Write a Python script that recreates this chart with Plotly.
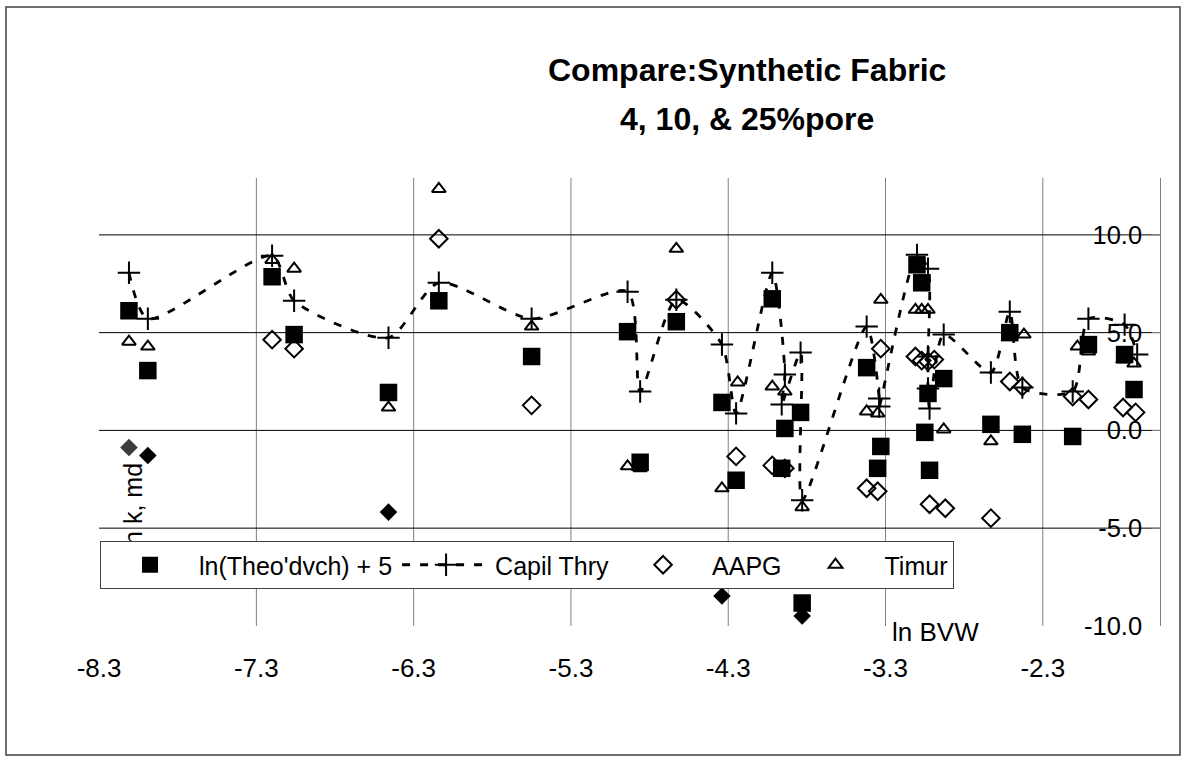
import plotly.graph_objects as go

# ---------------- data ----------------
theo_x = [-8.11, -7.99, -7.20, -7.06, -6.46, -6.14, -5.55, -4.94, -4.63, -4.86,
          -4.34, -4.25, -4.02, -3.94, -3.84, -3.96, -3.83, -3.42, -3.33, -3.35,
          -3.10, -3.07, -3.03, -2.93, -3.05, -3.02, -2.63, -2.51, -2.43, -2.11,
          -2.01, -1.78, -1.72]
theo_y = [6.12, 3.06, 7.86, 4.90, 1.94, 6.63, 3.78, 5.05, 5.56, -1.63,
          1.43, -2.55, 6.73, 0.10, 0.92, -1.94, -8.83, 3.21, -0.82, -1.94,
          8.47, 7.55, 1.89, 2.65, -0.10, -2.04, 0.31, 5.00, -0.20, -0.31,
          4.39, 3.88, 2.09]

capil_x = [-8.11, -7.99, -7.20, -7.06, -6.46, -6.14, -5.55, -4.94, -4.86, -4.63,
           -4.34, -4.25, -4.02, -3.94, -3.96, -3.84, -3.83, -3.42, -3.34, -3.34,
           -3.10, -3.03, -3.03, -3.03, -3.02, -2.93, -2.63, -2.51, -2.43, -2.11,
           -2.01, -1.78, -1.70]
capil_y = [8.06, 5.71, 8.93, 6.63, 4.74, 7.55, 5.71, 7.09, 1.99, 6.68,
           4.39, 0.87, 8.06, 2.86, 1.33, 3.98, -3.57, 5.31, 1.63, 1.22,
           8.98, 8.27, 3.78, 2.14, 1.12, 4.90, 2.96, 6.07, 2.19, 1.99,
           5.71, 5.41, 3.88]

aapg_x = [-7.20, -7.06, -6.14, -5.55, -4.63, -4.25, -4.02, -3.94, -3.42, -3.35,
          -3.33, -3.11, -3.07, -3.03, -2.99, -3.02, -2.92, -2.63, -2.51, -2.43,
          -2.11, -2.01, -1.79, -1.71]
aapg_y = [4.64, 4.18, 9.80, 1.28, 6.68, -1.33, -1.79, -1.94, -2.96, -3.11,
          4.18, 3.78, 3.57, 3.52, 3.62, -3.78, -3.98, -4.49, 2.50, 2.24,
          1.73, 1.58, 1.17, 0.92]

timur_x = [-8.11, -7.99, -7.20, -7.06, -6.46, -6.14, -5.55, -4.63, -4.94, -4.86,
           -4.34, -4.24, -4.02, -3.94, -3.83, -3.42, -3.35, -3.33, -3.11, -3.07,
           -3.03, -2.93, -2.63, -2.42, -2.08, -2.01, -1.79, -1.72]
timur_y = [4.54, 4.29, 8.72, 8.27, 1.17, 12.35, 5.31, 9.29, -1.84, -1.94,
           -2.96, 2.45, 2.24, 1.99, -3.93, 0.97, 0.87, 6.68, 6.17, 6.17,
           6.17, 0.05, -0.56, 4.90, 4.29, 4.03, 3.62, 3.42]

solid_x = [-8.11, -7.99, -6.46, -4.34, -3.83]
solid_y = [-0.87, -1.28, -4.18, -8.47, -9.49]

x_ticks = [-8.3, -7.3, -6.3, -5.3, -4.3, -3.3, -2.3]
x_labels = ["-8.3", "-7.3", "-6.3", "-5.3", "-4.3", "-3.3", "-2.3"]
y_ticks = [-10, -5, 0, 5, 10]
y_labels = ["-10.0", "-5.0", "0.0", "5.0", "10.0"]

names = ["ln(Theo'dvch) + 5", "Capil Thry", "AAPG", "Timur"]
title_lines = ["Compare:Synthetic Fabric", "4, 10, & 25%pore"]
y_title = "ln k, md"
x_title = "ln BVW"

# ---------------- figure ----------------
FONT = "Liberation Sans, Arial, sans-serif"
W, H = 1187, 757
ML, MR, MT, MB = 99, 27, 178, 131
PW, PH = W - ML - MR, H - MT - MB

def px_to_paper_x(px):
    return (px - ML) / PW

def px_to_paper_y(py):
    return (H - MB - py) / PH

fig = go.Figure()

# rotated y-axis title drawn as bar text (so the legend box covers it like the original)
fig.add_trace(go.Bar(
    x=[-8.082], y=[0.01], base=[-6.15], width=[0.01],
    marker=dict(color="rgba(0,0,0,0)", line=dict(width=0)),
    text=[y_title], textposition="outside", textangle=-90,
    textfont=dict(family=FONT, size=25, color="black"),
    constraintext="none", cliponaxis=False,
    showlegend=False, hoverinfo="skip"))

fig.add_trace(go.Scatter(
    x=theo_x, y=theo_y, mode="markers", name=names[0],
    marker=dict(symbol="square", size=17.5, color="black")))

fig.add_trace(go.Scatter(
    x=capil_x, y=capil_y, mode="lines+markers", name=names[1],
    line=dict(color="black", width=2.8, dash="8px,10px", shape="spline", smoothing=0.7),
    marker=dict(symbol="cross-thin", size=16, color="black",
                line=dict(color="black", width=2))))

fig.add_trace(go.Scatter(
    x=aapg_x, y=aapg_y, mode="markers", name=names[2],
    marker=dict(symbol="diamond-open", size=13.5, color="black",
                line=dict(color="black", width=2))))

fig.add_trace(go.Scatter(
    x=timur_x, y=timur_y, mode="markers", name=names[3],
    marker=dict(symbol="triangle-up-open", size=12, color="black",
                line=dict(color="black", width=2))))

fig.add_trace(go.Scatter(
    x=solid_x, y=solid_y, mode="markers", showlegend=False,
    marker=dict(symbol="diamond", size=13.5,
                color=["#3c3c3c"] + ["black"] * (len(solid_x) - 1))))

# gridlines
for v in x_ticks[1:]:
    fig.add_shape(type="line", xref="x", yref="paper", x0=v, x1=v, y0=0, y1=1,
                  line=dict(color="#808080", width=1), layer="below")
for v in y_ticks:
    if v != y_ticks[0]:
        fig.add_shape(type="line", xref="paper", yref="y", x0=0, x1=1, y0=v, y1=v,
                      line=dict(color="black", width=1), layer="below")

# outer chart border
fig.add_shape(type="rect", xref="paper", yref="paper",
              x0=px_to_paper_x(6), x1=px_to_paper_x(1180),
              y0=px_to_paper_y(755), y1=px_to_paper_y(7),
              line=dict(color="#404040", width=1.5), fillcolor="rgba(0,0,0,0)")

# title lines
fig.add_annotation(text="<b>%s</b>" % title_lines[0], xref="paper", yref="paper",
                   x=px_to_paper_x(747), y=px_to_paper_y(70), showarrow=False,
                   xanchor="center", yanchor="middle",
                   font=dict(family=FONT, size=32, color="black"))
fig.add_annotation(text="<b>%s</b>" % title_lines[1], xref="paper", yref="paper",
                   x=px_to_paper_x(747), y=px_to_paper_y(119), showarrow=False,
                   xanchor="center", yanchor="middle",
                   font=dict(family=FONT, size=32, color="black"))

# x axis title
fig.add_annotation(text=x_title, xref="paper", yref="paper",
                   x=px_to_paper_x(935), y=px_to_paper_y(632), showarrow=False,
                   xanchor="center", yanchor="middle",
                   font=dict(family=FONT, size=26, color="black"))

fig.update_layout(
    width=W, height=H,
    margin=dict(l=ML, r=MR, t=MT, b=MB),
    paper_bgcolor="white", plot_bgcolor="white",
    font=dict(family=FONT, color="black"),
    showlegend=True,
    legend=dict(orientation="h", x=px_to_paper_x(100), y=px_to_paper_y(541),
                xanchor="left", yanchor="top",
                bgcolor="white", bordercolor="#404040", borderwidth=1,
                font=dict(family=FONT, size=25, color="black"),
                itemwidth=88, traceorder="normal"),
    xaxis=dict(range=[-8.3005, -8.3 + PW / 157.3], tickvals=x_ticks, ticktext=x_labels,
               showgrid=False, zeroline=False, showline=False, ticks="",
               ticklabelstandoff=24,
               tickfont=dict(family=FONT, size=26, color="black")),
    yaxis=dict(range=[-10.005, 12.91], tickvals=y_ticks, ticktext=y_labels,
               side="right", showgrid=False, zeroline=False,
               showline=True, linecolor="#808080", linewidth=1,
               ticks="inside", ticklen=8, tickcolor="#808080",
               ticklabelposition="inside", ticklabeloverflow="allow",
               ticklabelstandoff=12,
               tickfont=dict(family=FONT, size=25.5, color="black")),
)

fig.write_html("out.html")
